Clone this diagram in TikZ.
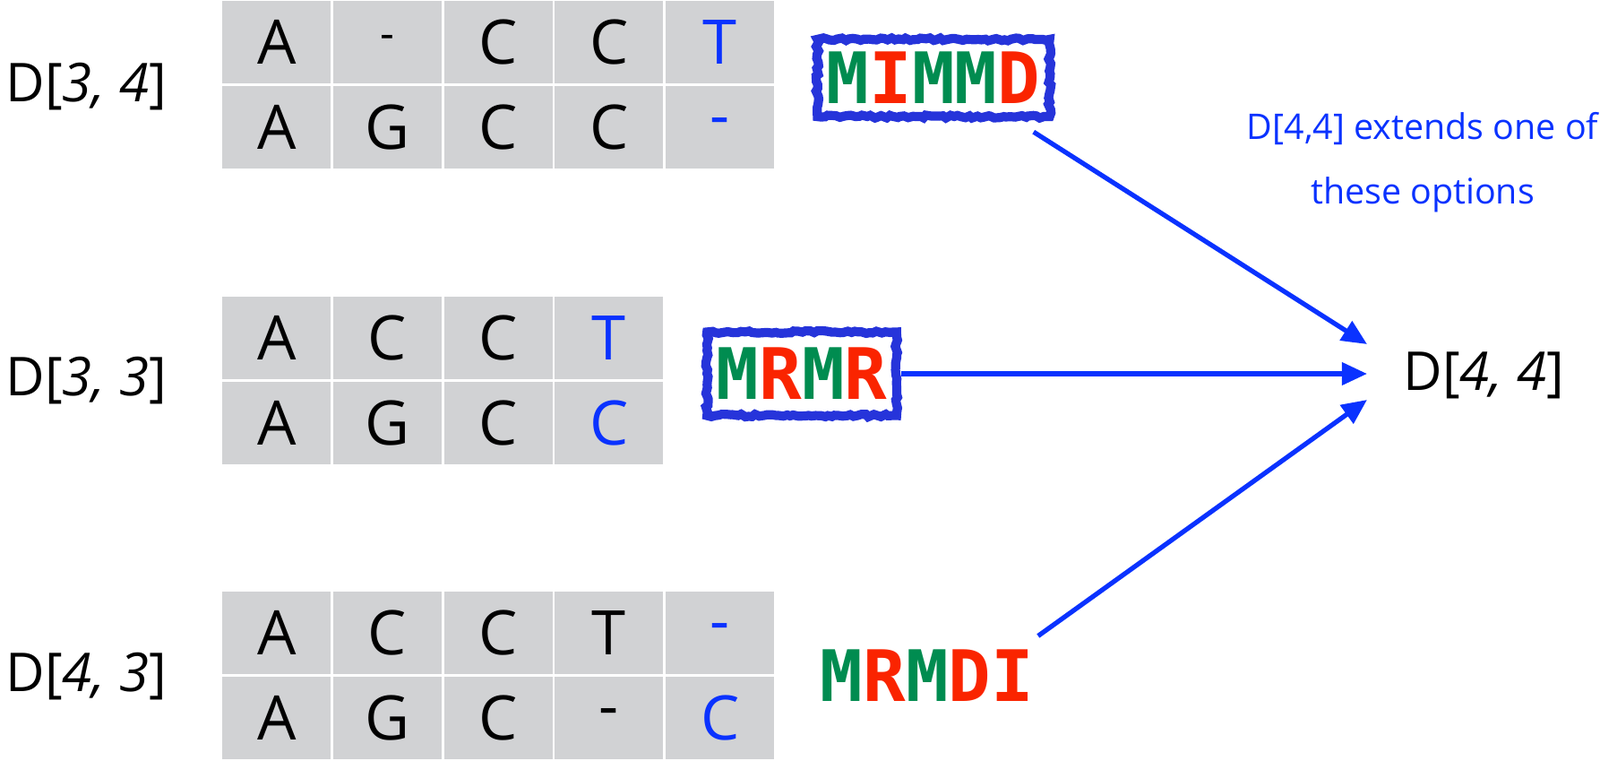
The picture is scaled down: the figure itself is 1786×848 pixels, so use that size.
\documentclass[tikz,border=0pt]{standalone}
\usepackage{fontspec}
\setmainfont{Open Sans}
\newfontfamily\opfont{DejaVu Sans Mono}
\usetikzlibrary{arrows.meta,decorations.pathmorphing}

\definecolor{cellgray}{RGB}{209,210,212}
\definecolor{opgreen}{RGB}{0,140,80}
\definecolor{opred}{RGB}{250,36,0}
\definecolor{linkblue}{RGB}{10,50,255}
\definecolor{boxblue}{RGB}{38,52,218}

\newcommand\gapmark{{\fontsize{14}{14}\selectfont -}}

\begin{document}
\begin{tikzpicture}[x=0.01cm, y=-0.01cm,
    cell/.style={fill=cellgray, draw=white, line width=0.8pt, minimum width=35.2pt,
      minimum height=26.9pt, inner sep=0pt, font=\fontsize{19.5}{19.5}\selectfont},
    dlabel/.style={anchor=west, inner sep=0pt, font=\fontsize{17}{17}\selectfont},
    ops/.style={inner sep=0pt, font=\opfont\bfseries\fontsize{22.5}{22.5}\selectfont},
    opbox/.style={ops, draw=boxblue, line width=2.9pt, inner xsep=3pt, minimum height=24.5pt,
      decorate, decoration={random steps, segment length=1.2pt, amplitude=0.45pt}},
    link/.style={draw=linkblue, line width=1.5pt, -{Triangle[length=8pt,width=7pt]}}]

  \useasboundingbox (0,0) rectangle (1786,848);

  % D[3,4]
  \foreach \ch/\col [count=\i] in {A/black, \gapmark/black, C/black, C/black, T/linkblue}
    \node[cell, text=\col] (ta-1-\i) at ({247+123.7*(\i-0.5)}, 47.25) {\ch};
  \foreach \ch/\col [count=\i] in {A/black, G/black, C/black, C/black, -/linkblue}
    \node[cell, text=\col] (ta-2-\i) at ({247+123.7*(\i-0.5)}, 141.75) {\ch};
  \node[dlabel] (d34) at (6,97) {D[\textit{3, 4}]};

  % D[3,3]
  \foreach \ch/\col [count=\i] in {A/black, C/black, C/black, T/linkblue}
    \node[cell, text=\col] (tb-1-\i) at ({247+123.7*(\i-0.5)}, 377.25) {\ch};
  \foreach \ch/\col [count=\i] in {A/black, G/black, C/black, C/linkblue}
    \node[cell, text=\col] (tb-2-\i) at ({247+123.7*(\i-0.5)}, 471.75) {\ch};
  \node[dlabel] (d33) at (6,425) {D[\textit{3, 3}]};

  % D[4,3]
  \foreach \ch/\col [count=\i] in {A/black, C/black, C/black, T/black, -/linkblue}
    \node[cell, text=\col] (tc-1-\i) at ({247+123.7*(\i-0.5)}, 706.25) {\ch};
  \foreach \ch/\col [count=\i] in {A/black, G/black, C/black, -/black, C/linkblue}
    \node[cell, text=\col] (tc-2-\i) at ({247+123.7*(\i-0.5)}, 800.75) {\ch};
  \node[dlabel] (d43) at (6,755) {D[\textit{4, 3}]};

  % edit strings
  \node[opbox] (mimmd) at (1042,87)
    {\color{opgreen}M\color{opred}I\color{opgreen}MM\color{opred}D};
  \node[opbox, minimum height=26.5pt] (mrmr) at (895,417)
    {\color{opgreen}M\color{opred}R\color{opgreen}M\color{opred}R};
  \node[ops] (mrmdi) at (1035,754)
    {\color{opgreen}M\color{opred}R\color{opgreen}M\color{opred}DI};

  % target
  \node[dlabel] (d44) at (1566,419) {D[\textit{4, 4}]};
  \node[align=center, text=linkblue, font=\fontsize{11.2}{13.5}\selectfont] (note) at (1588,181)
    {D[4,4] extends one of\\[7pt]these options};

  \coordinate (in1) at ([shift={(-40,-35)}]d44.west);
  \coordinate (in2) at ([shift={(-40,-2)}]d44.west);
  \coordinate (in3) at ([shift={(-40,27)}]d44.west);
  \draw[link] ([shift={(-23,12)}]mimmd.south east) -- (in1);
  \draw[link] (mrmr.east) -- (in2);
  \draw[link] ([shift={(4,-15)}]mrmdi.north east) -- (in3);
\end{tikzpicture}
\end{document}
